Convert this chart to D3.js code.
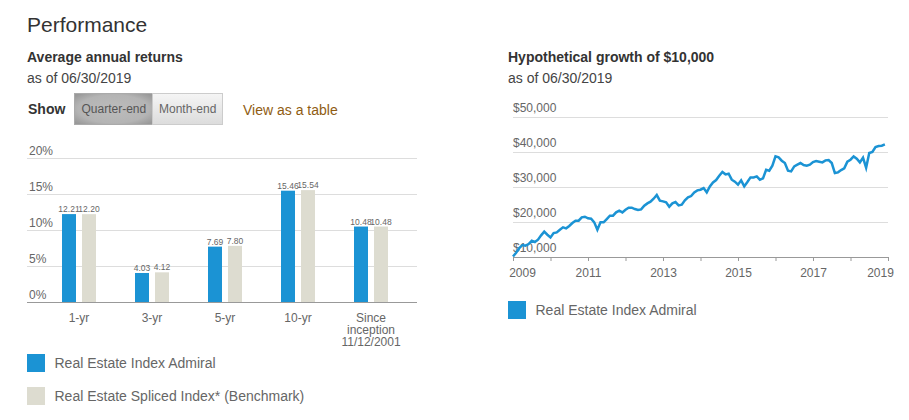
<!DOCTYPE html>
<html>
<head>
<meta charset="utf-8">
<script src="https://cdnjs.cloudflare.com/ajax/libs/d3/7.8.5/d3.min.js"></script>
<style>
  body { margin: 0; background: #fff; }
  svg { display: block; font-family: "Liberation Sans", Arial, sans-serif; }
  .grid line { stroke: #ddd; }
  .grid path { display: none; }
  .grid text, .xaxis text { fill: #666; font-size: 12px; }
  .xaxis path, .xaxis line { stroke: #999; }
  .vals text { fill: #666; font-size: 8.5px; text-anchor: middle; }
  .legend text { fill: #666; font-size: 14px; }
</style>
</head>
<body>
<svg id="chart" width="909" height="420"></svg>
<script>
// bar chart data
var categories = ["1-yr", "3-yr", "5-yr", "10-yr", "Since inception 11/12/2001"];
var fundReturns = [12.21, 4.03, 7.69, 15.46, 10.48];
var fundLabels = ["12.21", "4.03", "7.69", "15.46", "10.48"];
var benchReturns = [12.20, 4.12, 7.80, 15.54, 10.48];
var benchLabels = ["12.20", "4.12", "7.80", "15.54", "10.48"];
var returnTicks = [0, 5, 10, 15, 20];

// growth chart data, monthly from mid 2009
var growthValues = [10150, 11230, 12560, 13420, 13230, 13700, 14660, 14280, 14940, 16180,
  17230, 16370, 15610, 16850, 17040, 17800, 18470, 18180, 18850, 19700,
  20370, 20370, 21320, 21510, 21040, 20940, 19900, 17800, 19900, 19900,
  20850, 21800, 21800, 22750, 23230, 22750, 23510, 24090, 24090, 23700,
  23420, 23610, 24660, 25320, 25800, 26660, 27700, 26090, 25900, 25610,
  24370, 25320, 25700, 24750, 24940, 26180, 27040, 27420, 28470, 29040,
  29230, 29700, 28470, 30180, 31320, 31990, 33230, 34280, 33610, 33800,
  32090, 31510, 30660, 31900, 30180, 31420, 32750, 32750, 33040, 32090,
  32470, 34940, 34660, 36090, 38750, 38470, 37510, 36850, 34660, 34470,
  35900, 36370, 36850, 36280, 36090, 36370, 37130, 37420, 37230, 37040,
  37610, 37700, 36850, 33990, 34180, 34850, 35320, 37230, 37800, 38750,
  38090, 37040, 38370, 35510, 39710, 39990, 41420, 41700, 41800, 42180];
var growthTicks = [10000, 20000, 30000, 40000, 50000];
var yearTicks = [0, 12, 24, 36, 48, 60, 72, 84, 96, 108, 120];
var yearLabels = ["2009", "", "2011", "", "2013", "", "2015", "", "2017", "", "2019"];

var fundName = "Real Estate Index Admiral";
var benchName = "Real Estate Spliced Index* (Benchmark)";
var blue = "#1b93d4", tan = "#dddcd0";

var svg = d3.select("#chart");

function label(x, y, str, size, color, weight) {
  return svg.append("text").attr("x", x).attr("y", y).text(str)
    .attr("font-size", size).attr("fill", color).attr("font-weight", weight || "normal");
}

// headings
label(27, 32, "Performance", "21px", "#333");
label(27, 62, "Average annual returns", "14px", "#333", "bold");
label(27, 83, "as of 06/30/2019", "14px", "#444");
label(508, 62, "Hypothetical growth of $10,000", "14px", "#333", "bold");
label(508, 83, "as of 06/30/2019", "14px", "#444");
label(28, 114, "Show", "14px", "#333", "bold");

// toggle buttons
var defs = svg.append("defs");
var g1 = defs.append("radialGradient").attr("id", "btnOn").attr("r", 0.65);
g1.append("stop").attr("offset", "0").attr("stop-color", "#bcbcbc");
g1.append("stop").attr("offset", "0.7").attr("stop-color", "#b4b4b4");
g1.append("stop").attr("offset", "1").attr("stop-color", "#999");
var g2 = defs.append("linearGradient").attr("id", "btnOff").attr("x1", 0).attr("x2", 0).attr("y1", 0).attr("y2", 1);
g2.append("stop").attr("offset", "0").attr("stop-color", "#f5f5f5");
g2.append("stop").attr("offset", "1").attr("stop-color", "#dcdcdc");
svg.append("rect").attr("x", 74.5).attr("y", 93.5).attr("width", 78).attr("height", 31)
  .attr("fill", "url(#btnOn)").attr("stroke", "#aaa");
svg.append("rect").attr("x", 152.5).attr("y", 93.5).attr("width", 70).attr("height", 31)
  .attr("fill", "url(#btnOff)").attr("stroke", "#ccc");
label(81.5, 113, "Quarter-end", "12px", "#555");
label(159, 113, "Month-end", "12px", "#666");
label(243, 114.5, "View as a table", "14px", "#8f5c12");

// bar chart
var x0 = d3.scaleBand().domain(categories).range([42.5, 407.5]);
var x1 = d3.scaleBand().domain(["fund", "bench"]).range([0, 34]).paddingInner(0.3);
var y = d3.scaleLinear().domain([0, 20]).range([302, 158]);

var yAxis = svg.append("g").attr("class", "grid")
  .attr("transform", "translate(27,0)")
  .call(d3.axisLeft(y).tickValues(returnTicks).tickFormat(function(d) { return d + "%"; }).tickSize(-390));
yAxis.selectAll("text").attr("text-anchor", "start").attr("x", 2).attr("y", -4).attr("dy", 0);

var series = [
  { key: "fund", values: fundReturns, labels: fundLabels, color: blue },
  { key: "bench", values: benchReturns, labels: benchLabels, color: tan }
];
series.forEach(function(s) {
  var px = function(i) { return x0(categories[i]) + 19.5 + x1(s.key); };
  svg.append("g").selectAll("rect").data(s.values).enter().append("rect")
    .attr("x", function(d, i) { return px(i); })
    .attr("y", function(d) { return y(d); })
    .attr("width", x1.bandwidth())
    .attr("height", function(d) { return y(0) - y(d); })
    .attr("fill", s.color);
  svg.append("g").attr("class", "vals").selectAll("text").data(s.values).enter().append("text")
    .attr("x", function(d, i) { return px(i) + x1.bandwidth() / 2; })
    .attr("y", function(d) { return y(d) - 2; })
    .text(function(d, i) { return s.labels[i]; });
});

var xAxis = svg.append("g").attr("class", "xaxis")
  .attr("transform", "translate(0,302)")
  .call(d3.axisBottom(x0).tickSize(0).tickPadding(0));
xAxis.select("path").attr("d", "M27,0.5H417");
xAxis.selectAll("text").each(function(d) {
  var t = d3.select(this).text(null).attr("y", 0).attr("dy", 0);
  var lines = d.indexOf("Since") === 0 ? ["Since", "inception", "11/12/2001"] : [d];
  lines.forEach(function(l, i) {
    t.append("tspan").attr("x", 0).attr("y", 20 + i * 12).text(l);
  });
});

// legends
function legend(px, py, color, name) {
  var g = svg.append("g").attr("class", "legend");
  g.append("rect").attr("x", px).attr("y", py).attr("width", 18).attr("height", 18).attr("fill", color);
  g.append("text").attr("x", px + 27.5).attr("y", py + 14).text(name);
}
legend(27, 354, blue, fundName);
legend(27, 387, tan, benchName);
legend(508, 301, blue, fundName);

// growth chart
var gx = d3.scaleLinear().domain([0, 120]).range([513, 888]);
var gy = d3.scaleLinear().domain([10000, 50000]).range([257, 117]);

var gyAxis = svg.append("g").attr("class", "grid")
  .attr("transform", "translate(513,0)")
  .call(d3.axisLeft(gy).tickValues(growthTicks).tickFormat(d3.format("$,")).tickSize(-375));
gyAxis.selectAll("text").attr("text-anchor", "start").attr("x", 0).attr("y", -6).attr("dy", 0);

var gxAxis = svg.append("g").attr("class", "xaxis")
  .attr("transform", "translate(0,257)")
  .call(d3.axisBottom(gx).tickValues(yearTicks).tickSize(4).tickPadding(7)
    .tickFormat(function(d, i) { return yearLabels[i]; }));
gxAxis.selectAll("text").attr("dx", function(d) { return d === 0 ? 9 : d === 120 ? -8 : 0; });

var line = d3.line()
  .x(function(d, i) { return gx(i); })
  .y(function(d) { return gy(d); });

svg.append("path").datum(growthValues)
  .attr("d", line)
  .attr("fill", "none")
  .attr("stroke", blue)
  .attr("stroke-width", 2.5);
</script>
</body>
</html>
